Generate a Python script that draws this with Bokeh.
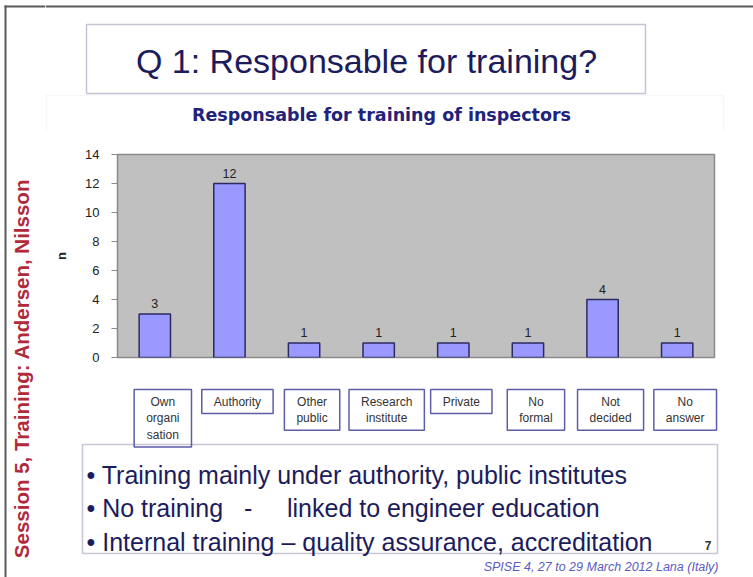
import math
from bokeh.plotting import figure
from bokeh.layouts import row, column
from bokeh.models import (ColumnDataSource, LabelSet, Label, BoxAnnotation,
                          Range1d, FixedTicker)
from bokeh.core.properties import value
from bokeh.embed import file_html
from bokeh.resources import INLINE

# ---------------- data ----------------
categories = ["Own organisation", "Authority", "Other public", "Research institute",
              "Private", "No formal", "Not decided", "No answer"]
box_texts = ["Own\norgani\nsation", "Authority", "Other\npublic", "Research\ninstitute",
             "Private", "No\nformal", "Not\ndecided", "No\nanswer"]
counts = [3, 12, 1, 1, 1, 1, 4, 1]
y_ticks = [0, 2, 4, 6, 8, 10, 12, 14]

slide_title = "Q 1: Responsable for training?"
chart_title = "Responsable for training of inspectors"
side_text = "Session 5, Training: Andersen, Nilsson"
bullets = ["\u2022 Training mainly under authority, public institutes",
           "\u2022 No training \u00a0\u00a0-\u00a0\u00a0\u00a0\u00a0 linked to engineer education",
           "\u2022 Internal training \u2013 quality assurance, accreditation"]
footer = "SPISE 4, 27 to 29 March 2012 Lana (Italy)"
page_no = "7"

# ---------------- layout (slide pixels) ----------------
W, H = 753, 577
LW = 45                 # left strip width
TOP_H, CH_H = 130, 250  # top strip / chart strip heights
FL, FR, FT, FB = 117, 714, 154, 357   # chart plot frame
NC = len(categories)

FONT = "Liberation Sans"
NAVY = "#1c1c5c"
BORDER = "#5a5a5a"


def no_align(f):
    try:
        f.frame_align = False
    except AttributeError:
        pass


def strip(x0, x1, y0, y1):
    """figure whose frame covers it fully, with slide pixel coordinates (y downwards)"""
    f = figure(width=x1 - x0, height=y1 - y0, x_range=Range1d(x0, x1),
               y_range=Range1d(y1, y0), x_axis_type=None, y_axis_type=None,
               output_backend="svg", toolbar_location=None, title=None, min_border=0)
    f.outline_line_color = None
    f.grid.visible = False
    f.background_fill_color = "white"
    f.border_fill_color = "white"
    no_align(f)
    return f


def box(f, l, r, t, b, **kw):
    f.add_layout(BoxAnnotation(left=l, right=r, top=t, bottom=b, **kw))


def lab(f, x, y, text, **kw):
    f.add_layout(Label(x=x, y=y, text=text, **kw))


# ---------------- left strip: slide border + vertical session text ----------------
left = strip(0, LW, 0, H)
box(left, 4, 6, 5, H, fill_color=BORDER, fill_alpha=1, line_color=None)
box(left, 4, LW, 5, 7, fill_color=BORDER, fill_alpha=1, line_color=None)
lab(left, 21, 368, side_text, angle=math.pi / 2, text_align="center",
    text_baseline="middle", text_font=FONT, text_font_style="bold",
    text_font_size="20.5px", text_color="#b02a3c")

# ---------------- top strip: slide title, chart title ----------------
top = strip(LW, W, 0, TOP_H)
box(top, LW, W, 5, 7, fill_color=BORDER, fill_alpha=1, line_color=None)
box(top, 86, 645, 24, 93, fill_alpha=0, line_color="#3a3a7a", line_width=1.5)
lab(top, 366, 60, slide_title, text_align="center", text_baseline="middle",
    text_font=FONT, text_font_size="34px", text_color=NAVY)
box(top, LW + 1, 723, 95, TOP_H + 5, fill_alpha=0, line_color="#e6e6e6", line_width=1.5)
lab(top, 381, 114, chart_title, text_align="center", text_baseline="middle",
    text_font="DejaVu Sans", text_font_style="bold",
    text_font_size="17.5px", text_color="#22227a")

# ---------------- chart ----------------
p = figure(width=W - LW, height=CH_H, x_range=categories, y_range=Range1d(0, 14),
           output_backend="svg", toolbar_location=None, title=None,
           min_border_left=FL - LW, min_border_right=W - FR,
           min_border_top=FT - TOP_H, min_border_bottom=TOP_H + CH_H - FB)
no_align(p)
p.background_fill_color = "#c0c0c0"
p.border_fill_color = "white"
p.outline_line_color = "#8a8a8a"
p.outline_line_width = 1.5
p.grid.visible = False
p.xaxis.visible = False

yax = p.yaxis[0]
yax.ticker = FixedTicker(ticks=y_ticks)
yax.axis_label = "n"
yax.axis_label_text_font = FONT
yax.axis_label_text_font_style = "bold"
yax.axis_label_text_font_size = "13px"
yax.axis_label_text_color = "#222222"
yax.axis_label_standoff = 13
yax.major_label_text_font = FONT
yax.major_label_text_font_size = "13px"
yax.major_label_text_color = "#222222"
yax.major_label_standoff = 12
yax.major_tick_in = 0
yax.major_tick_out = 6
yax.minor_tick_line_color = None
yax.axis_line_color = "#8a8a8a"
yax.major_tick_line_color = "#8a8a8a"

src = ColumnDataSource(dict(cat=categories, n=counts, lbl=[str(c) for c in counts]))
p.vbar(x="cat", top="n", width=0.42, source=src, fill_color="#9999ff",
       line_color="#2b2b60", line_width=1.5)
p.add_layout(LabelSet(x="cat", y="n", text="lbl", source=src, y_offset=6,
                      text_align="center", text_baseline="bottom",
                      text_font=value(FONT), text_font_size=value("12.5px"),
                      text_color="#222222"))

# ---------------- bottom strip: category boxes, bullets, footer ----------------
bot = strip(LW, W, TOP_H + CH_H, H)
box(bot, LW + 1, 723, TOP_H + CH_H - 5, 377, fill_alpha=0, line_color="#e6e6e6",
    line_width=1.5)
for cat, txt in zip(categories, box_texts):
    xc = FL + (categories.index(cat) + 0.5) * (FR - FL) / NC   # centre of the bar
    lab(bot, xc + 8, 389, txt, text_align="center", text_baseline="top",
        text_font=FONT, text_font_size="12px", text_color="#333333",
        text_line_height=1.2, border_line_color="#5e5ea8", border_line_width=1.5,
        background_fill_color="white", padding=(12, 5))
box(bot, 82, 717, 444, 553, fill_alpha=0, line_color="#44447f", line_width=1.6)
for i, b in enumerate(bullets):
    lab(bot, 86, 474 + 33.5 * i, b, text_align="left", text_baseline="alphabetic",
        text_font=FONT, text_font_size="25px", text_color=NAVY)
lab(bot, 711, 545, page_no, text_align="right", text_baseline="alphabetic",
    text_font=FONT, text_font_style="bold", text_font_size="12px", text_color="#333333")
lab(bot, 718, 566, footer, text_align="right", text_baseline="alphabetic",
    text_font=FONT, text_font_style="italic", text_font_size="12.5px",
    text_color="#5b5bc0")

layout = row(left, column(top, p, bot, spacing=0), spacing=0)
open("out.html", "w").write(file_html(layout, INLINE))
